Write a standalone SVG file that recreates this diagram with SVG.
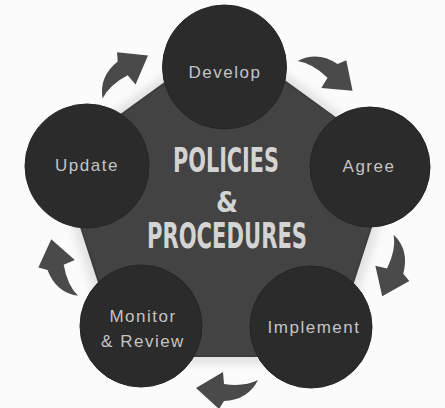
<svg xmlns="http://www.w3.org/2000/svg" width="445" height="408" viewBox="0 0 445 408">
  <defs>
    <style>
      .node circle { fill: #2b2b2b; stroke: #252525; stroke-width: 1; }
      .lbl { font-family: "Liberation Sans", Arial, sans-serif; font-size: 17px; fill: #c4c4c4; text-anchor: middle; letter-spacing: 1.5px; }
      .title { font-family: "Liberation Sans Narrow", "DejaVu Sans Condensed", "Liberation Sans", sans-serif; font-weight: bold; fill: #d4d4d4; text-anchor: middle; }
      .arrow { fill: #4a4a4a; }
    </style>
    <path id="arr" d="M 258 380 Q 248 400 224 401 L 219 409 L 196 388 L 223 372 L 224 384 Q 244 387 258 380 Z"/>
    <filter id="soft" x="-10%" y="-10%" width="120%" height="120%">
      <feGaussianBlur stdDeviation="4"/>
    </filter>
  </defs>
  <rect width="445" height="408" fill="#fbfbfb"/>
  <polygon points="226,30 402,158 335,364 117,364 50,158" fill="#e2e2e2" filter="url(#soft)"/>

  <g id="hub">
    <polygon points="226,38.5 392.9,159.8 329.2,356 122.8,356 59.1,159.8" fill="#434343" stroke="#3d3d3d" stroke-width="2" stroke-linejoin="round"/>
    <text class="title" x="226" y="172" font-size="34" textLength="106" lengthAdjust="spacingAndGlyphs">POLICIES</text>
    <text class="title" x="227" y="212" font-size="28">&amp;</text>
    <text class="title" x="227" y="248" font-size="35" textLength="160" lengthAdjust="spacingAndGlyphs">PROCEDURES</text>
  </g>

  <g id="connectors">
    <use href="#arr" class="arrow"/>
    <use href="#arr" class="arrow" transform="rotate(72 226 214)"/>
    <use href="#arr" class="arrow" transform="rotate(144 226 214)"/>
    <use href="#arr" class="arrow" transform="rotate(-144 226 214)"/>
    <use href="#arr" class="arrow" transform="rotate(-72 226 214)"/>
  </g>

  <g id="develop" class="node">
    <circle cx="224.5" cy="67" r="62"/>
    <text class="lbl" x="225" y="78">Develop</text>
  </g>
  <g id="agree" class="node">
    <circle cx="370" cy="167" r="60"/>
    <text class="lbl" x="369" y="172">Agree</text>
  </g>
  <g id="implement" class="node">
    <circle cx="311" cy="327" r="61"/>
    <text class="lbl" x="314" y="333">Implement</text>
  </g>
  <g id="monitor" class="node">
    <circle cx="141" cy="326" r="61"/>
    <text class="lbl" x="143" y="322">Monitor</text>
    <text class="lbl" x="143" y="347">&amp; Review</text>
  </g>
  <g id="update" class="node">
    <circle cx="87" cy="166" r="62"/>
    <text class="lbl" x="87" y="171">Update</text>
  </g>
</svg>
